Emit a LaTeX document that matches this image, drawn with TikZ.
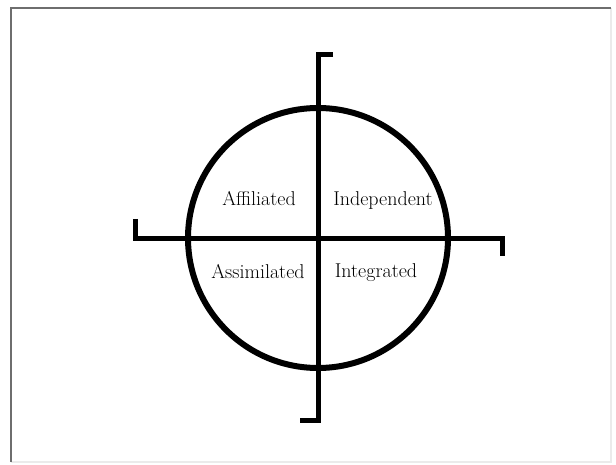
\documentclass[tikz,border=0pt]{standalone}
\usepackage{tikz}
\usetikzlibrary{positioning}
\definecolor{framegray}{RGB}{110, 110, 110}
\definecolor{shadegray}{RGB}{235, 235, 235}

\begin{document}
\begin{tikzpicture}[
    x=1pt, y=-1pt,
    ring/.style={draw=black, line width=6pt, circle, minimum size=260pt, inner sep=0pt},
    axis/.style={draw=black, line width=5pt, line join=miter},
    quad/.style={inner sep=0pt, anchor=base, font=\fontsize{20}{22}\selectfont}
]
    \useasboundingbox (0,0) rectangle (616,465);

    % frame
    \coordinate (f_tl) at (11,8);
    \coordinate (f_tr) at (611,8);
    \coordinate (f_bl) at (11,462);
    \coordinate (f_br) at (611,462);
    \draw [shadegray, line width=1.5pt] (f_tr) -- (f_br) -- (f_bl);
    \draw [framegray, line width=2pt] (f_bl) -- (f_tl) -- (f_tr);

    \node [ring] (circ) at (318,238) {};

    % axes with end ticks
    \coordinate (v_top) at (318,55);
    \coordinate (v_toptick) at (333,55);
    \coordinate (v_bot) at (318,420);
    \coordinate (v_bottick) at (300,420);
    \coordinate (h_left) at (135,239);
    \coordinate (h_lefttick) at (135,219);
    \coordinate (h_right) at (502,239);
    \coordinate (h_righttick) at (502,256);

    \draw [axis] (v_toptick) -- (v_top) -- (v_bot) -- (v_bottick);
    \draw [axis] (h_lefttick) -- (h_left) -- (h_right) -- (h_righttick);

    \node [quad] (affil) at (259,206) {Affiliated};
    \node [quad] (indep) at (383,206) {Independent};
    \node [quad] (assim) at (258,279) {Assimilated};
    \node [quad] (integ) at (376,278) {Integrated};

\end{tikzpicture}
\end{document}
